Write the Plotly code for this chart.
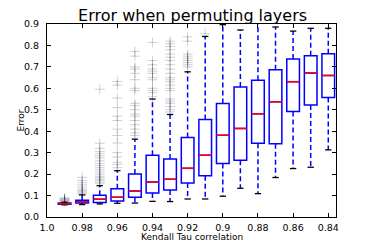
import plotly.graph_objects as go

positions = [0.99, 0.98, 0.97, 0.96, 0.95, 0.94, 0.93, 0.92, 0.91, 0.90, 0.89, 0.88, 0.87, 0.86, 0.85, 0.84]
q1 = [0.059, 0.065, 0.068, 0.075, 0.092, 0.112, 0.126, 0.159, 0.192, 0.249, 0.265, 0.344, 0.341, 0.492, 0.522, 0.557]
median = [0.062, 0.070, 0.083, 0.092, 0.121, 0.163, 0.176, 0.227, 0.288, 0.381, 0.413, 0.481, 0.537, 0.631, 0.671, 0.660]
q3 = [0.065, 0.078, 0.101, 0.132, 0.200, 0.288, 0.271, 0.371, 0.455, 0.529, 0.606, 0.638, 0.687, 0.737, 0.752, 0.761]
lower = [0.057, 0.058, 0.061, 0.064, 0.065, 0.073, 0.072, 0.084, 0.084, 0.097, 0.134, 0.109, 0.184, 0.226, 0.232, 0.313]
upper = [0.069, 0.103, 0.146, 0.216, 0.363, 0.550, 0.478, 0.677, 0.842, 0.897, 0.872, 0.930, 0.886, 0.867, 0.880, 0.880]

fliers = [
    [0.072, 0.075, 0.078, 0.080, 0.083, 0.086, 0.090],
    [0.107, 0.112, 0.118, 0.124, 0.130, 0.140, 0.150, 0.160, 0.170, 0.185],
    [0.155, 0.162, 0.170, 0.176, 0.183, 0.190, 0.200, 0.210, 0.220, 0.230, 0.240, 0.250,
     0.262, 0.275, 0.285, 0.295, 0.305, 0.320, 0.344, 0.596],
    [0.230, 0.245, 0.255, 0.280, 0.300, 0.345, 0.380, 0.410, 0.450, 0.470, 0.510, 0.555, 0.615, 0.632],
    [0.380, 0.392, 0.410, 0.430, 0.450, 0.470, 0.480, 0.500, 0.520, 0.530, 0.590, 0.600,
     0.640, 0.670, 0.690, 0.700, 0.750, 0.772],
    [0.560, 0.580, 0.590, 0.600, 0.640, 0.650, 0.670, 0.680, 0.690, 0.710, 0.730, 0.814],
    [0.490, 0.500, 0.515, 0.530, 0.540, 0.550, 0.590, 0.600, 0.615, 0.630, 0.640, 0.650,
     0.670, 0.690, 0.710, 0.730, 0.745, 0.760, 0.780, 0.795, 0.808, 0.820],
    [0.700, 0.710, 0.720, 0.730, 0.740, 0.750, 0.760, 0.820, 0.840],
    [0.855],
    [], [], [], [], [], [], [],
]

xtick_vals = [1.0, 0.98, 0.96, 0.94, 0.92, 0.90, 0.88, 0.86, 0.84]
xtick_text = ["1.0", "0.98", "0.96", "0.94", "0.92", "0.9", "0.88", "0.86", "0.84"]
ytick_vals = [0.0, 0.1, 0.2, 0.3, 0.4, 0.5, 0.6, 0.7, 0.8, 0.9]
ytick_text = ["0.0", "0.1", "0.2", "0.3", "0.4", "0.5", "0.6", "0.7", "0.8", "0.9"]

BOX_W = 0.0072
CAP_W = 0.0036

fig = go.Figure()

# fliers
fx, fy = [], []
for p, fl in zip(positions, fliers):
    for v in fl:
        fx.append(p)
        fy.append(v)
fig.add_trace(go.Scatter(
    x=fx, y=fy, mode="markers",
    marker=dict(symbol="cross-thin", size=7,
                line=dict(width=1, color="rgba(40,40,70,0.22)")),
    hoverinfo="skip", showlegend=False))

# whiskers (dashed)
wx, wy = [], []
for p, a, b, lo, hi in zip(positions, q1, q3, lower, upper):
    wx += [p, p, None, p, p, None]
    wy += [b, hi, None, a, lo, None]
fig.add_trace(go.Scatter(
    x=wx, y=wy, mode="lines",
    line=dict(color="#0000ff", width=1.5, dash="5px,3px"),
    hoverinfo="skip", showlegend=False))

# caps
cx, cy = [], []
for p, lo, hi in zip(positions, lower, upper):
    cx += [p - CAP_W / 2, p + CAP_W / 2, None, p - CAP_W / 2, p + CAP_W / 2, None]
    cy += [lo, lo, None, hi, hi, None]
fig.add_trace(go.Scatter(
    x=cx, y=cy, mode="lines",
    line=dict(color="black", width=1.3),
    hoverinfo="skip", showlegend=False))

# boxes
fig.add_trace(go.Box(
    x=positions, q1=q1, median=median, q3=q3,
    lowerfence=q1, upperfence=q3,
    width=BOX_W, boxpoints=False,
    line=dict(color="#0000ff", width=1.5),
    fillcolor="rgba(255,255,255,1)",
    hoverinfo="skip", showlegend=False))

# medians (red)
mx, my = [], []
for p, m in zip(positions, median):
    mx += [p - BOX_W / 2, p + BOX_W / 2, None]
    my += [m, m, None]
fig.add_trace(go.Scatter(
    x=mx, y=my, mode="lines",
    line=dict(color="#ff0000", width=1.5),
    hoverinfo="skip", showlegend=False))

fig.update_layout(
    width=374, height=249,
    margin=dict(l=47, r=38, t=24, b=32, autoexpand=False),
    paper_bgcolor="white", plot_bgcolor="white",
    font=dict(family="DejaVu Sans", color="black", size=9.5),
    title=dict(text="Error when permuting layers", x=0.515,
               xanchor="center", y=0.94, yanchor="middle",
               font=dict(size=16, family="DejaVu Sans", color="black")),
    showlegend=False,
    annotations=[
        dict(text="Kendall Tau correlation", xref="paper", yref="paper",
             x=0.5, y=-0.104, xanchor="center", yanchor="middle",
             showarrow=False, font=dict(size=9)),
        dict(text="Error", xref="paper", yref="paper",
             x=-0.09, y=0.5, xanchor="center", yanchor="middle",
             textangle=-90, showarrow=False, font=dict(size=9)),
    ],
)
fig.update_xaxes(
    range=[1.0, 0.8356], tickvals=xtick_vals, ticktext=xtick_text,
    ticks="inside", ticklen=4, tickcolor="black",
    showline=True, linecolor="black", linewidth=1, mirror="ticks",
    showgrid=False, zeroline=False, automargin=False,
    ticklabelstandoff=2,
)
fig.update_yaxes(
    range=[0, 0.9], tickvals=ytick_vals, ticktext=ytick_text,
    ticks="inside", ticklen=4, tickcolor="black",
    showline=True, linecolor="black", linewidth=1, mirror="ticks",
    showgrid=False, zeroline=False, automargin=False,
    ticklabelstandoff=5,
)

fig.write_html("out.html", config={"displayModeBar": False},
               post_script="document.body.style.margin='0';")
